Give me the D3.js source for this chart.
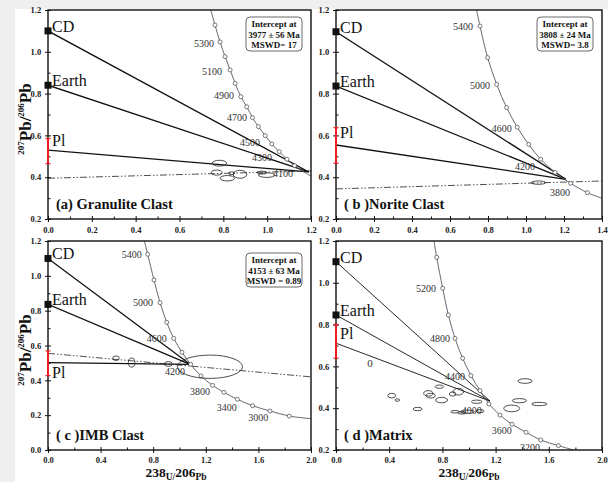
<!DOCTYPE html>
<html><head><meta charset="utf-8">
<script src="https://cdn.jsdelivr.net/npm/d3@7/dist/d3.min.js"></script>
<style>
body{margin:0;background:#efefef;}
svg{display:block;}
</style></head><body>
<svg id="c" width="608" height="482"></svg>
<script>
// ---------------- DATA ----------------
const panelNames = ["(a) Granulite Clast", "( b )Norite Clast", "( c )IMB Clast", "( d )Matrix"];
const xDomains = [[0, 1.2], [0, 1.4], [0, 2.0], [0, 2.0]];
const yDomains = [[0.2, 1.2], [0.2, 1.2], [0.0, 1.2], [0.2, 1.2]];
const xMajorTicks = [[0,0.2,0.4,0.6,0.8,1.0,1.2],[0,0.2,0.4,0.6,0.8,1.0,1.2,1.4],[0,0.4,0.8,1.2,1.6,2.0],[0,0.4,0.8,1.2,1.6,2.0]];
const xMinorTicks = [[0.1,0.3,0.5,0.7,0.9,1.1],[0.1,0.3,0.5,0.7,0.9,1.1,1.3],[0.2,0.6,1.0,1.4,1.8],[0.2,0.6,1.0,1.4,1.8]];
const yMajorTicks = [[0.2,0.4,0.6,0.8,1.0,1.2],[0.2,0.4,0.6,0.8,1.0,1.2],[0,0.2,0.4,0.6,0.8,1.0,1.2],[0.2,0.4,0.6,0.8,1.0,1.2]];
const yMinorTicks = [[0.3,0.5,0.7,0.9,1.1],[0.3,0.5,0.7,0.9,1.1],[0.1,0.3,0.5,0.7,0.9,1.1],[0.3,0.5,0.7,0.9,1.1]];

const interceptTexts = [
  ["Intercept at", "3977 ± 56 Ma", "MSWD= 17"],
  ["Intercept at", "3808 ± 24 Ma", "MSWD= 3.8"],
  ["Intercept at", "4153 ± 63 Ma", "MSWD = 0.89"],
  null
];

// concordia points [x, y, marker?]
const concordiaA = [[0.743,1.2,0],[0.762,1.128,1],[0.785,1.047,1],[0.808,0.977,1],[0.831,0.913,1],[0.854,0.849,1],[0.880,0.785,1],[0.907,0.737,1],[0.933,0.685,1],[0.960,0.642,1],[0.991,0.599,1],[1.021,0.559,1],[1.055,0.522,1],[1.09,0.486,1],[1.125,0.455,1],[1.16,0.43,0],[1.2,0.405,0]];
const concordiaB = [[0.74,1.2,0],[0.758,1.123,1],[0.798,0.972,1],[0.846,0.844,1],[0.898,0.733,1],[0.954,0.639,1],[1.014,0.557,1],[1.077,0.486,1],[1.153,0.423,1],[1.235,0.371,1],[1.323,0.326,1],[1.4,0.299,0]];
const concordiaC = [[0.733,1.2,0],[0.758,1.124,1],[0.806,0.976,1],[0.852,0.846,1],[0.903,0.733,1],[0.956,0.641,1],[1.019,0.561,1],[1.085,0.492,1],[1.163,0.425,1],[1.252,0.371,1],[1.338,0.331,1],[1.44,0.291,1],[1.556,0.254,1],[1.688,0.224,1],[1.835,0.195,1],[2.0,0.18,0]];
const concordiaD = [[0.737,1.2,0],[0.757,1.122,1],[0.802,0.974,1],[0.845,0.846,1],[0.895,0.734,1],[0.952,0.639,1],[1.015,0.556,1],[1.083,0.484,1],[1.15,0.42,1],[1.233,0.367,1],[1.323,0.323,1],[1.429,0.285,1],[1.539,0.248,1],[1.672,0.221,1],[1.785,0.2,0]];

// age labels [age, x, y]
const ageLabelsA = [[5300,0.712,1.042],[5100,0.748,0.908],[4900,0.803,0.793],[4700,0.862,0.688],[4500,0.922,0.564],[4300,0.976,0.492],[4100,1.072,0.420]];
const ageLabelsB = [[5400,0.668,1.119],[5000,0.758,0.841],[4600,0.872,0.635],[4200,0.995,0.449],[3800,1.179,0.329]];
const ageLabelsC = [[5400,0.637,1.125],[5000,0.722,0.846],[4600,0.827,0.641],[4200,0.966,0.450],[3800,1.156,0.335],[3400,1.359,0.243],[3000,1.599,0.186]];
const ageLabelsD = [[5200,0.677,0.974],[4800,0.782,0.735],[4400,0.895,0.552],[4000,1.02,0.391],[3600,1.246,0.292],[3200,1.459,0.211]];

// error ellipses [cx, cy, rx, ry] (data units)
const ellipsesA = [[0.782,0.467,0.033,0.014],[0.770,0.422,0.024,0.012],[0.818,0.395,0.033,0.013],[0.876,0.414,0.031,0.019],[0.838,0.419,0.014,0.007],[0.998,0.41,0.038,0.011],[0.976,0.422,0.023,0.007]];
const ellipsesB = [[1.065,0.374,0.038,0.008]];
const ellipsesC = [[0.517,0.527,0.025,0.013],[0.636,0.502,0.025,0.026],[0.915,0.494,0.030,0.014],[1.232,0.478,0.247,0.067]];
const ellipsesD = [[0.419,0.46,0.030,0.011],[0.461,0.439,0.017,0.006],[0.694,0.471,0.034,0.013],[0.712,0.46,0.034,0.011],[0.777,0.503,0.032,0.008],[0.794,0.439,0.045,0.013],[0.614,0.396,0.034,0.008],[0.92,0.479,0.040,0.016],[0.877,0.468,0.025,0.010],[1.058,0.431,0.040,0.008],[0.895,0.383,0.032,0.006],[0.987,0.383,0.053,0.008],[0.945,0.378,0.030,0.006],[1.083,0.386,0.030,0.007],[1.321,0.399,0.060,0.016],[1.379,0.436,0.053,0.010],[1.421,0.53,0.053,0.011],[1.529,0.42,0.058,0.008]];

// mixing lines: intercept point and initial ratios
const interceptPoints = [[1.19,0.425],[1.21,0.39],[1.08,0.492],[1.158,0.434]];
const cdRatios = [1.10, 1.096, 1.10, 1.101];
const earthRatios = [0.84, 0.836, 0.836, 0.846];
const plRatios = [0.53, 0.554, 0.502, 0.711];
const plRanges = [[0.465,0.585],[0.466,0.637],[0.427,0.569],[0.639,0.801]];
const dashDotLines = [[[0,0.395],[1.2,0.43]], [[0,0.344],[1.4,0.382]], [[0,0.555],[2.0,0.42]], null];
const strayLabelsD = [["0", 0.256, 0.615]];

// ---------------- LAYOUT ----------------
const svg = d3.select("#c");
svg.append("rect").attr("x",15).attr("y",9).attr("width",593).attr("height",473).attr("fill","#fff");

const boxes = [
  {l:48, r:311, t:10, b:219},
  {l:336, r:602, t:10, b:219},
  {l:48, r:311, t:241, b:450},
  {l:336, r:602, t:241, b:450}
];
const concordias = [concordiaA, concordiaB, concordiaC, concordiaD];
const ageLabels = [ageLabelsA, ageLabelsB, ageLabelsC, ageLabelsD];
const ellipses = [ellipsesA, ellipsesB, ellipsesC, ellipsesD];
const serif = "'Liberation Serif','Times New Roman',serif";
const lineW = [1.3,1.3,1.3,0.9];
const plLabelDy = [-4, -7, 15, -4];
const xLabelDy = ["0.95em","0.95em","0.8em","0.8em"];

boxes.forEach((bx, i) => {
  const x = d3.scaleLinear().domain(xDomains[i]).range([bx.l, bx.r]);
  const y = d3.scaleLinear().domain(yDomains[i]).range([bx.b, bx.t]);
  const g = svg.append("g");
  const clipId = "clip"+i;
  g.append("clipPath").attr("id", clipId).append("rect")
    .attr("x", bx.l).attr("y", bx.t).attr("width", bx.r-bx.l).attr("height", bx.b-bx.t);
  const pg = g.append("g").attr("clip-path", `url(#${clipId})`);

  // dash-dot line
  if (dashDotLines[i]) {
    pg.append("path").attr("d", d3.line().x(d=>x(d[0])).y(d=>y(d[1]))(dashDotLines[i]))
      .attr("stroke","#222").attr("stroke-width",0.8).attr("fill","none")
      .attr("stroke-dasharray","7,2,1.5,2,1.5,2");
  }
  // mixing lines
  const ip = interceptPoints[i];
  [cdRatios[i], earthRatios[i], plRatios[i]].forEach(v => {
    pg.append("line").attr("x1", x(0)).attr("y1", y(v)).attr("x2", x(ip[0])).attr("y2", y(ip[1]))
      .attr("stroke","#111").attr("stroke-width", lineW[i]);
  });
  // concordia
  const cc = concordias[i];
  pg.append("path").attr("d", d3.line().curve(d3.curveCatmullRom).x(d=>x(d[0])).y(d=>y(d[1]))(cc))
    .attr("stroke","#5a5566").attr("stroke-width",0.9).attr("fill","none");
  pg.selectAll("circle.m").data(cc.filter(d=>d[2])).join("circle")
    .attr("cx", d=>x(d[0])).attr("cy", d=>y(d[1])).attr("r", 2)
    .attr("fill","#fff").attr("stroke","#444").attr("stroke-width",0.7);
  // ellipses
  pg.selectAll("ellipse").data(ellipses[i]).join("ellipse")
    .attr("cx", d=>x(d[0])).attr("cy", d=>y(d[1]))
    .attr("rx", d=>x(d[2])-x(0)).attr("ry", d=>y(0.2)-y(0.2+d[3]))
    .attr("fill","none").attr("stroke","#222").attr("stroke-width",0.8);
  // age labels
  pg.selectAll("text.age").data(ageLabels[i]).join("text")
    .attr("x", d=>x(d[1])).attr("y", d=>y(d[2])+3.5).attr("text-anchor","middle")
    .attr("font-family", serif).attr("font-size", 10).attr("fill","#333").text(d=>d[0]);
  if (i === 3) {
    pg.selectAll("text.st").data(strayLabelsD).join("text")
      .attr("x", d=>x(d[1])).attr("y", d=>y(d[2])+4).attr("text-anchor","middle")
      .attr("font-family", serif).attr("font-size", 11).attr("fill","#333").text(d=>d[0]);
  }

  // frame
  g.append("rect").attr("x", bx.l).attr("y", bx.t).attr("width", bx.r-bx.l).attr("height", bx.b-bx.t)
    .attr("fill","none").attr("stroke","#111").attr("stroke-width",1.4);

  // axes
  const fmt = d3.format(".1f");
  const xa = g.append("g").attr("transform",`translate(0,${bx.b})`)
    .call(d3.axisBottom(x).tickValues(xMajorTicks[i]).tickSize(3).tickFormat(fmt));
  const ya = g.append("g").attr("transform",`translate(${bx.l},0)`)
    .call(d3.axisLeft(y).tickValues(yMajorTicks[i]).tickSize(3).tickFormat(fmt));
  g.append("g").attr("transform",`translate(0,${bx.b})`)
    .call(d3.axisBottom(x).tickValues(xMinorTicks[i]).tickSize(-2.5).tickFormat(""));
  g.append("g").attr("transform",`translate(${bx.l},0)`)
    .call(d3.axisLeft(y).tickValues(yMinorTicks[i]).tickSize(-2.5).tickFormat(""));
  xa.selectAll(".tick line").attr("y1",-3);
  ya.selectAll(".tick line").attr("x1",3);
  g.selectAll(".domain").remove();
  g.selectAll(".tick line").attr("stroke","#111").attr("stroke-width",1);
  xa.selectAll("text").attr("font-family",serif).attr("font-weight","bold").attr("font-size",8.5).attr("fill","#222").attr("dy",xLabelDy[i]);
  ya.selectAll("text").attr("font-family",serif).attr("font-weight","bold").attr("font-size",8.5).attr("fill","#222").attr("dx","-0.1em");

  // Pl error bar (on top of frame)
  const pr = plRanges[i];
  const eb = g.append("g").attr("stroke","#ee1c24");
  eb.append("line").attr("x1",x(0)).attr("x2",x(0)).attr("y1",y(pr[0])).attr("y2",y(pr[1])).attr("stroke-width",2);
  eb.append("line").attr("x1",x(0)-2.5).attr("x2",x(0)+2.5).attr("y1",y(pr[0])).attr("y2",y(pr[0])).attr("stroke-width",1.2);
  eb.append("line").attr("x1",x(0)-2.5).attr("x2",x(0)+2.5).attr("y1",y(pr[1])).attr("y2",y(pr[1])).attr("stroke-width",1.2);

  // squares
  [cdRatios[i], earthRatios[i]].forEach(v => {
    g.append("rect").attr("x", x(0)-3.5).attr("y", y(v)-3.5).attr("width",7).attr("height",7).attr("fill","#111");
  });
  // labels CD / Earth / Pl
  const lab = (t, yy) => g.append("text").attr("x", x(0)+4).attr("y", yy)
    .attr("font-family", serif).attr("font-size", 16).attr("fill","#111").text(t);
  lab("CD", y(cdRatios[i])+1);
  lab("Earth", y(earthRatios[i])+1);
  lab("Pl", y(plRatios[i])+plLabelDy[i]);

  // panel name
  g.append("text").attr("x", bx.l+8).attr("y", bx.b-10)
    .attr("font-family", serif).attr("font-weight","bold").attr("font-size",14.5).attr("fill","#111")
    .text(panelNames[i]);

  // intercept box
  const it = interceptTexts[i];
  if (it) {
    const bw = 56, bh = 34;
    const bxR = bx.r - 9, byT = bx.t + (i===2 ? 12 : 7);
    g.append("rect").attr("x", bxR-bw).attr("y", byT).attr("width", bw).attr("height", bh)
      .attr("rx",4).attr("fill","#fff").attr("stroke","#444").attr("stroke-width",0.8);
    it.forEach((t, k) => {
      g.append("text").attr("x", bxR-bw/2).attr("y", byT+10+k*10.5).attr("text-anchor","middle")
        .attr("font-family", serif).attr("font-weight","bold").attr("font-size",9).attr("fill","#111").text(t);
    });
  }
});

// y-axis titles
[119, 350].forEach(cy => {
  const t = svg.append("text").attr("transform",`translate(31,${cy}) rotate(-90)`)
    .attr("text-anchor","middle").attr("font-family", serif).attr("font-weight","bold").attr("fill","#111");
  t.append("tspan").attr("font-size",9).attr("dy",-7).text("207");
  t.append("tspan").attr("font-size",17).attr("dy",7).text("Pb/");
  t.append("tspan").attr("font-size",9).attr("dy",-7).text("206");
  t.append("tspan").attr("font-size",17).attr("dy",7).text("Pb");
});
// x-axis titles
[176, 469].forEach(cx => {
  const t = svg.append("text").attr("x", cx).attr("y", 477)
    .attr("text-anchor","middle").attr("font-family", serif).attr("font-weight","bold").attr("fill","#111");
  t.append("tspan").attr("font-size",13.5).text("238");
  t.append("tspan").attr("font-size",9.5).attr("dy",2.5).text("U/");
  t.append("tspan").attr("font-size",13.5).attr("dy",-2.5).text("206");
  t.append("tspan").attr("font-size",9.5).attr("dy",2.5).text("Pb");
});
</script>
</body></html>
